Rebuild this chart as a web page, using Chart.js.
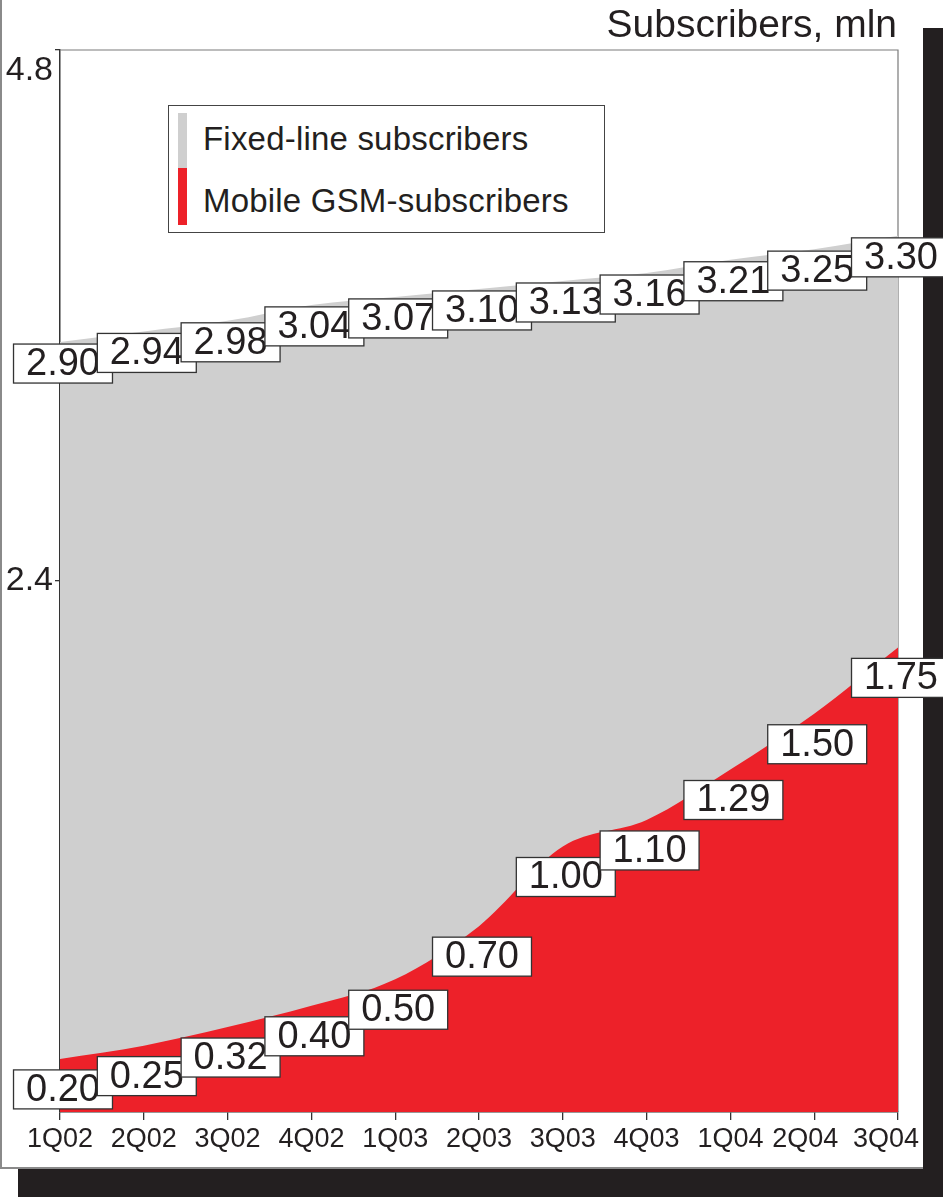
<!DOCTYPE html>
<html>
<head>
<meta charset="utf-8">
<script src="https://cdn.jsdelivr.net/npm/chart.js@4/dist/chart.umd.min.js"></script>
<style>
  html, body { margin: 0; padding: 0; background: #fff; }
  body { width: 943px; height: 1197px; position: relative; overflow: hidden;
         font-family: "Liberation Sans", Arial, sans-serif; color: #231f20; }
  #shadow { position: absolute; left: 18px; top: 28px; width: 925px; height: 1169px; background: #231f20; }
  #frame { position: absolute; left: 0; top: -2px; width: 923px; height: 1171px; background: #fff;
           border-left: 2px solid #8a8a8a; border-bottom: 2px solid #8a8a8a; box-sizing: border-box; }
  #chart { position: absolute; left: 0; top: 0; }
  #title { position: absolute; right: 46px; top: 4px; font-size: 39px; line-height: 39px; white-space: nowrap; }
  #legend { position: absolute; left: 168px; top: 105px; width: 437px; height: 128px;
            border: 1.5px solid #444; box-sizing: border-box; background: #fff; }
  .sw { position: absolute; left: 9px; width: 9px; }
  .lt { position: absolute; left: 34px; font-size: 33px; line-height: 33px; white-space: nowrap; letter-spacing: 0.2px; }
</style>
</head>
<body>
<div id="shadow"></div>
<div id="frame"></div>
<canvas id="chart" width="943" height="1197"></canvas>
<div id="title">Subscribers, mln</div>
<div id="legend">
  <div class="sw" style="top:7px;height:55px;background:#cfcfcf"></div>
  <div class="sw" style="top:62px;height:57px;background:#ed2129"></div>
  <div class="lt" style="top:16px">Fixed-line subscribers</div>
  <div class="lt" style="top:78px">Mobile GSM-subscribers</div>
</div>
<script>
// Quarterly subscriber counts, mln
const quarters = ["1Q02", "2Q02", "3Q02", "4Q02", "1Q03", "2Q03", "3Q03", "4Q03", "1Q04", "2Q04", "3Q04"];
const fixedLine = [2.90, 2.94, 2.98, 3.04, 3.07, 3.10, 3.13, 3.16, 3.21, 3.25, 3.30];
const mobileGsm = [0.20, 0.25, 0.32, 0.40, 0.50, 0.70, 1.00, 1.10, 1.29, 1.50, 1.75];

// tick labels as printed on the original axis
const yTickValues = [2, 4];
const yTickLabels = ["2.4", "4.8"];

const FONT = '"Liberation Sans", Arial, sans-serif';
const INK = "#231f20";

// white boxed value labels under each point
const valueBoxes = {
  id: "valueBoxes",
  afterDatasetsDraw(chart) {
    const ctx = chart.ctx;
    ctx.save();
    ctx.font = "38px " + FONT;
    ctx.textAlign = "center";
    ctx.textBaseline = "middle";
    // gray series first, red on top
    [1, 0].forEach(di => {
      const ds = chart.data.datasets[di];
      const meta = chart.getDatasetMeta(di);
      const dy = di === 0 ? 11 : 2;
      meta.data.forEach((pt, j) => {
        const txt = ds.data[j].toFixed(2);
        const w = ctx.measureText(txt).width + 25;
        const h = 39;
        const cx = pt.x + 3;
        const top = pt.y + dy;
        ctx.fillStyle = "#fff";
        ctx.fillRect(cx - w / 2, top, w, h);
        ctx.strokeStyle = "#333";
        ctx.lineWidth = 1.3;
        ctx.strokeRect(cx - w / 2, top, w, h);
        ctx.fillStyle = INK;
        ctx.fillText(txt, cx, top + h / 2 + 1);
      });
    });
    ctx.restore();
  }
};

// thin gray top/right edge of the plot
const plotEdge = {
  id: "plotEdge",
  beforeDatasetsDraw(chart) {
    const { ctx, chartArea: a } = chart;
    ctx.save();
    ctx.strokeStyle = "#7a7a7a";
    ctx.lineWidth = 1.2;
    ctx.beginPath();
    ctx.moveTo(a.left, a.top);
    ctx.lineTo(a.right, a.top);
    ctx.lineTo(a.right, a.bottom);
    ctx.stroke();
    ctx.restore();
  }
};

// last two quarter labels sit a little left so they stay inside the frame
const xLabelNudge = {
  id: "xLabelNudge",
  beforeDraw(chart) {
    const items = chart.scales.x.getLabelItems();
    const n = items.length;
    if (n < 2 || items._nudged) return;
    items[n - 1].options.translation[0] -= 12;
    items[n - 2].options.translation[0] -= 9;
    items._nudged = true;
  }
};

new Chart(document.getElementById("chart"), {
  type: "line",
  data: {
    labels: quarters,
    datasets: [
      {
        label: "Mobile GSM-subscribers",
        data: mobileGsm,
        backgroundColor: "#ed2129",
        borderWidth: 0,
        fill: "origin",
        cubicInterpolationMode: "monotone",
        pointRadius: 0,
        order: 0
      },
      {
        label: "Fixed-line subscribers",
        data: fixedLine,
        backgroundColor: "#cfcfcf",
        borderWidth: 0,
        fill: "origin",
        cubicInterpolationMode: "monotone",
        pointRadius: 0,
        order: 1
      }
    ]
  },
  options: {
    responsive: false,
    animation: false,
    layout: { padding: { left: 0, top: 50, right: 45, bottom: 28 } },
    plugins: { legend: { display: false }, tooltip: { enabled: false } },
    scales: {
      x: {
        type: "category",
        offset: false,
        grid: { display: true, drawOnChartArea: false, tickLength: 8, color: "#333", lineWidth: 1.3 },
        border: { color: "#333", width: 1.5 },
        ticks: { autoSkip: false, maxRotation: 0, padding: 3, color: INK, font: { family: FONT, size: 27 } },
        afterFit(s) { s.height = 57; }
      },
      y: {
        min: 0,
        max: 4,
        afterBuildTicks(s) { s.ticks = yTickValues.map(v => ({ value: v })); },
        grid: { display: true, drawOnChartArea: false, tickLength: 5, color: "#333", lineWidth: 1.3 },
        border: { color: "#333", width: 1.5 },
        ticks: {
          padding: 2,
          color: INK,
          font: { family: FONT, size: 34 },
          callback(v, i) {
            const t = yTickLabels[i];
            // top label sits just below the frame edge
            return i === yTickLabels.length - 1 ? ["", t] : t;
          }
        },
        afterFit(s) { s.width = 60; }
      }
    }
  },
  plugins: [plotEdge, valueBoxes, xLabelNudge]
});
</script>
</body>
</html>
